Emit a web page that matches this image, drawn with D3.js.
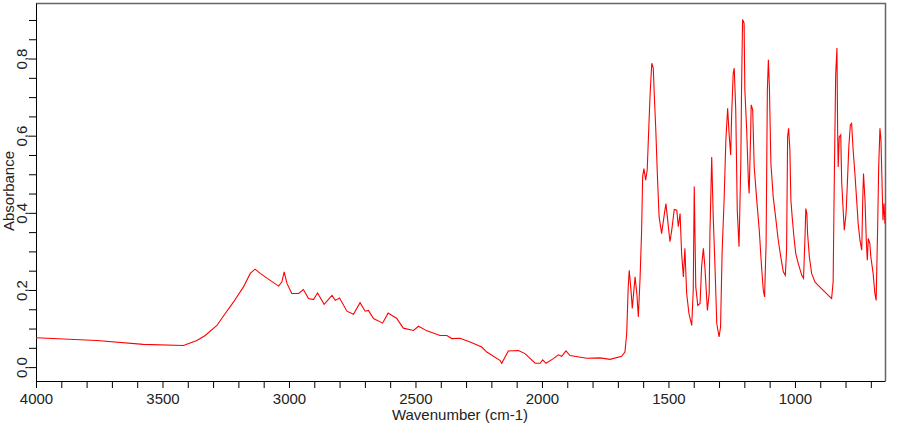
<!DOCTYPE html>
<html>
<head>
<meta charset="utf-8">
<script src="https://cdn.jsdelivr.net/npm/d3@7"></script>
<style>
  body { margin: 0; background: #fff; }
  svg { display: block; font-family: "Liberation Sans", Arial, sans-serif; }
</style>
</head>
<body>
<div id="spectrum"></div>
<script>
// IR spectrum
const wavenumber = [
  4000, 3759, 3576, 3417, 3364, 3331, 3285, 3252, 3219, 3180, 3153, 3134, 3114, 3074, 3041, 3028, 3019, 3008,
  2989, 2962, 2943, 2923, 2903, 2887, 2861, 2830, 2817, 2800, 2771, 2745, 2719, 2699, 2686, 2666,
  2630, 2608, 2574, 2548, 2508, 2488, 2455, 2403, 2376, 2356, 2324, 2284, 2238, 2218, 2165, 2159,
  2133, 2093, 2067, 2027, 2007, 1997, 1984, 1955, 1935, 1922, 1905, 1889, 1823, 1770, 1731, 1685,
  1672, 1665, 1659, 1655, 1648, 1643, 1632, 1625, 1619, 1612, 1606, 1602, 1597, 1590, 1584, 1580,
  1573, 1566, 1560, 1556, 1550, 1544, 1537, 1527, 1516, 1510, 1503, 1494, 1487, 1477, 1467, 1461,
  1454, 1448, 1441, 1435, 1428, 1419, 1408, 1402, 1398, 1392, 1384, 1375, 1369, 1362, 1356, 1346,
  1339, 1336, 1329, 1323, 1316, 1309, 1300, 1294, 1288, 1280, 1273, 1266, 1260, 1254, 1250, 1244,
  1240, 1234, 1228, 1221, 1214, 1211, 1207, 1201, 1198, 1191, 1184, 1181, 1175, 1173, 1167, 1161,
  1151, 1141, 1132, 1125, 1120, 1114, 1109, 1105, 1101, 1095, 1086, 1075, 1066, 1056, 1046, 1038,
  1033, 1029, 1025, 1020, 1016, 1011, 1004, 997, 987, 973, 966, 960, 957, 953, 950, 943,
  934, 921, 908, 888, 868, 855, 849, 845, 839, 834, 831, 829, 825, 819, 815, 810,
  805, 798, 793, 787, 781, 776, 770, 763, 756, 750, 743, 736, 732, 729, 723, 718,
  714, 710, 704, 700, 691, 684, 679, 673, 669, 664, 660, 656, 652, 648, 644
];
const absorbance = [
  0.076, 0.069, 0.059, 0.056, 0.069, 0.082, 0.108, 0.139, 0.169, 0.208, 0.243, 0.254, 0.243, 0.225, 0.210, 0.221, 0.247, 0.217,
  0.191, 0.191, 0.201, 0.178, 0.175, 0.192, 0.163, 0.186, 0.173, 0.179, 0.145, 0.137, 0.167, 0.145, 0.147, 0.126,
  0.114, 0.140, 0.126, 0.101, 0.095, 0.106, 0.094, 0.082, 0.082, 0.074, 0.075, 0.065, 0.052, 0.039, 0.017, 0.010,
  0.042, 0.043, 0.035, 0.010, 0.010, 0.019, 0.010, 0.022, 0.032, 0.028, 0.042, 0.030, 0.023, 0.024, 0.020, 0.028,
  0.039, 0.087, 0.208, 0.251, 0.199, 0.152, 0.234, 0.191, 0.130, 0.234, 0.355, 0.494, 0.515, 0.485, 0.511, 0.580,
  0.701, 0.788, 0.775, 0.706, 0.615, 0.502, 0.390, 0.346, 0.398, 0.424, 0.381, 0.325, 0.355, 0.409, 0.407, 0.364,
  0.398, 0.295, 0.234, 0.308, 0.191, 0.139, 0.108, 0.199, 0.468, 0.208, 0.160, 0.165, 0.260, 0.308, 0.260, 0.147,
  0.191, 0.346, 0.545, 0.390, 0.260, 0.113, 0.078, 0.104, 0.295, 0.433, 0.589, 0.671, 0.602, 0.550, 0.658, 0.762,
  0.775, 0.667, 0.407, 0.312, 0.528, 0.723, 0.901, 0.892, 0.719, 0.619, 0.481, 0.450, 0.606, 0.680, 0.667, 0.519,
  0.433, 0.355, 0.260, 0.199, 0.182, 0.321, 0.719, 0.797, 0.727, 0.528, 0.442, 0.381, 0.329, 0.286, 0.247, 0.238,
  0.303, 0.597, 0.619, 0.563, 0.433, 0.390, 0.338, 0.295, 0.269, 0.238, 0.230, 0.342, 0.411, 0.398, 0.346, 0.286,
  0.243, 0.221, 0.212, 0.199, 0.186, 0.178, 0.221, 0.455, 0.758, 0.827, 0.597, 0.519, 0.597, 0.602, 0.476, 0.416,
  0.355, 0.398, 0.472, 0.571, 0.628, 0.632, 0.563, 0.502, 0.433, 0.372, 0.329, 0.303, 0.433, 0.502, 0.433, 0.329,
  0.277, 0.334, 0.321, 0.286, 0.243, 0.191, 0.173, 0.364, 0.519, 0.619, 0.589, 0.485, 0.381, 0.424, 0.372
];
const xLabelTicks = [4000, 3500, 3000, 2500, 2000, 1500, 1000];
const yLabelTicks = [0.0, 0.2, 0.4, 0.6, 0.8];

const width = 900, height = 425;
const margin = { top: 3, right: 15, bottom: 44, left: 36 };

const svg = d3.select('#spectrum').append('svg')
  .attr('width', width)
  .attr('height', height);

const x = d3.scaleLinear().domain([4000, 644]).range([margin.left, width - margin.right]);
const y = d3.scaleLinear().domain([-0.036, 0.944]).range([height - margin.bottom, margin.top]);

// frame: grey top and right
svg.append('path')
  .attr('d', `M${margin.left},${margin.top + 0.5}H${width - margin.right + 0.5}V${height - margin.bottom}`)
  .attr('fill', 'none')
  .attr('stroke', '#666')
  .attr('stroke-width', 1.5);

const fmt = d => d3.format('.1f')(d).replace('.', ',');

// x axis, ticks every 100, labels every 500
const xAxis = d3.axisBottom(x)
  .tickValues(d3.range(4000, 650, -100))
  .tickSize(7)
  .tickSizeOuter(0)
  .tickFormat(d => xLabelTicks.includes(d) ? d : '');
const gx = svg.append('g')
  .attr('transform', `translate(0,${height - margin.bottom})`)
  .call(xAxis);
gx.selectAll('text').attr('font-size', 15).attr('fill', '#222').attr('dy', '0.85em');

// y axis, ticks every 0.05, labels every 0.2
const yAxis = d3.axisLeft(y)
  .tickValues(d3.range(0, 0.91, 0.05))
  .tickSize(7)
  .tickSizeOuter(0)
  .tickFormat(d => yLabelTicks.some(v => Math.abs(v - d) < 1e-6) ? fmt(d) : '');
const gy = svg.append('g')
  .attr('transform', `translate(${margin.left},0)`)
  .call(yAxis);
gy.selectAll('text')
  .attr('font-size', 15)
  .attr('fill', '#222')
  .attr('x', 0).attr('dy', 0)
  .attr('text-anchor', 'middle')
  .attr('transform', 'translate(-9,0) rotate(-90)');

svg.selectAll('.domain').attr('stroke', '#000');
svg.selectAll('.tick line').attr('stroke', '#000');

// axis titles
svg.append('text')
  .attr('x', 460).attr('y', 420)
  .attr('text-anchor', 'middle')
  .attr('font-size', 15)
  .attr('fill', '#222')
  .text('Wavenumber (cm-1)');

svg.append('text')
  .attr('transform', 'translate(14,191) rotate(-90)')
  .attr('text-anchor', 'middle')
  .attr('font-size', 15)
  .attr('fill', '#222')
  .text('Absorbance');

// spectrum trace
const line = d3.line()
  .x((d, i) => x(wavenumber[i]))
  .y(d => y(d));

svg.append('path')
  .datum(absorbance)
  .attr('d', line)
  .attr('fill', 'none')
  .attr('stroke', '#ff0000')
  .attr('stroke-width', 1.1);
</script>
</body>
</html>
